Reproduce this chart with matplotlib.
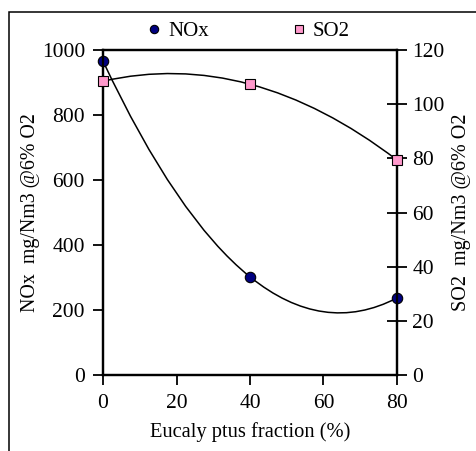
import matplotlib
matplotlib.use("Agg")
import numpy as np
import matplotlib.pyplot as plt
from matplotlib.path import Path
from matplotlib.patches import PathPatch, Rectangle
from matplotlib.lines import Line2D

plt.rcParams['font.family'] = ['Liberation Serif', 'DejaVu Serif']

fraction = [0, 40, 80]
nox = [966, 302, 237]
so2 = [108.5, 107.4, 79.4]

x_ticks = [0, 20, 40, 60, 80]
nox_ticks = [0, 200, 400, 600, 800, 1000]
so2_ticks = [0, 20, 40, 60, 80, 100, 120]


def trend_path(xs, ys):
    # 2nd order polynomial trendline, drawn as one quadratic bezier
    a, b, c = np.polyfit(xs, ys, 2)
    x0, x1 = min(xs), max(xs)
    xm = (x0 + x1) / 2
    y0 = np.polyval([a, b, c], x0)
    y1 = np.polyval([a, b, c], x1)
    ym = y0 + (2 * a * x0 + b) * (xm - x0)
    return Path([(x0, y0), (xm, ym), (x1, y1)],
                [Path.MOVETO, Path.CURVE3, Path.CURVE3])


fig = plt.figure(figsize=(4.76, 4.51), dpi=100)
ax = fig.add_axes([0.2164, 0.1685, 0.6176, 0.7205])
ax2 = ax.twinx()

fig.patches.append(Rectangle((9 / 476, -0.1), 1.2, 1.1 - 12 / 451,
                             transform=fig.transFigure, fill=False,
                             edgecolor='black', linewidth=1.1))

ax.add_patch(PathPatch(trend_path(fraction, nox), fill=False,
                       edgecolor='black', linewidth=1.1))
ax2.add_patch(PathPatch(trend_path(fraction, so2), fill=False,
                        edgecolor='black', linewidth=1.1))

ax.plot(fraction, nox, linestyle='none', marker='o', markersize=7.5,
        markerfacecolor='#000080', markeredgecolor='black',
        markeredgewidth=0.8, clip_on=False, zorder=5)
ax2.plot(fraction, so2, linestyle='none', marker='s', markersize=6.5,
         markerfacecolor='#FF99CC', markeredgecolor='black',
         markeredgewidth=0.8, clip_on=False, zorder=5)

ax.set_xlim(0, 80)
ax.set_ylim(0, 1000)
ax2.set_ylim(0, 120)
ax.set_xticks(x_ticks)
ax.set_yticks(nox_ticks)
ax2.set_yticks(so2_ticks)

for a in (ax, ax2):
    for s in a.spines.values():
        s.set_linewidth(1.6)

ax.tick_params(axis='x', direction='out', length=7, width=1.3,
               labelsize=15.5, pad=7)
ax.tick_params(axis='y', direction='out', length=7, width=1.3,
               labelsize=15.5, pad=6)
ax2.tick_params(axis='y', direction='inout', length=14, width=1.3,
                labelsize=15.5, pad=4)

ax.set_xlabel('Eucaly ptus fraction (%)', fontsize=14.8, labelpad=6)
ax.set_ylabel('NOx  mg/Nm3 @6% O2', fontsize=14.3, labelpad=1)
ax2.set_ylabel('SO2  mg/Nm3 @6% O2', fontsize=14.5, labelpad=5)

handles = [
    Line2D([], [], linestyle='none', marker='o', markersize=6,
           markerfacecolor='#000080', markeredgecolor='black',
           markeredgewidth=0.8, label='NOx'),
    Line2D([], [], linestyle='none', marker='s', markersize=5.5,
           markerfacecolor='#FF99CC', markeredgecolor='black',
           markeredgewidth=0.8, label='SO2'),
]
fig.legend(handles=handles, ncol=2, frameon=False, loc='center',
           bbox_to_anchor=(0.523, 0.93), fontsize=15, handlelength=0.6,
           handletextpad=0.35, columnspacing=4.05, borderpad=0)

fig.savefig('out.png', dpi=100)
